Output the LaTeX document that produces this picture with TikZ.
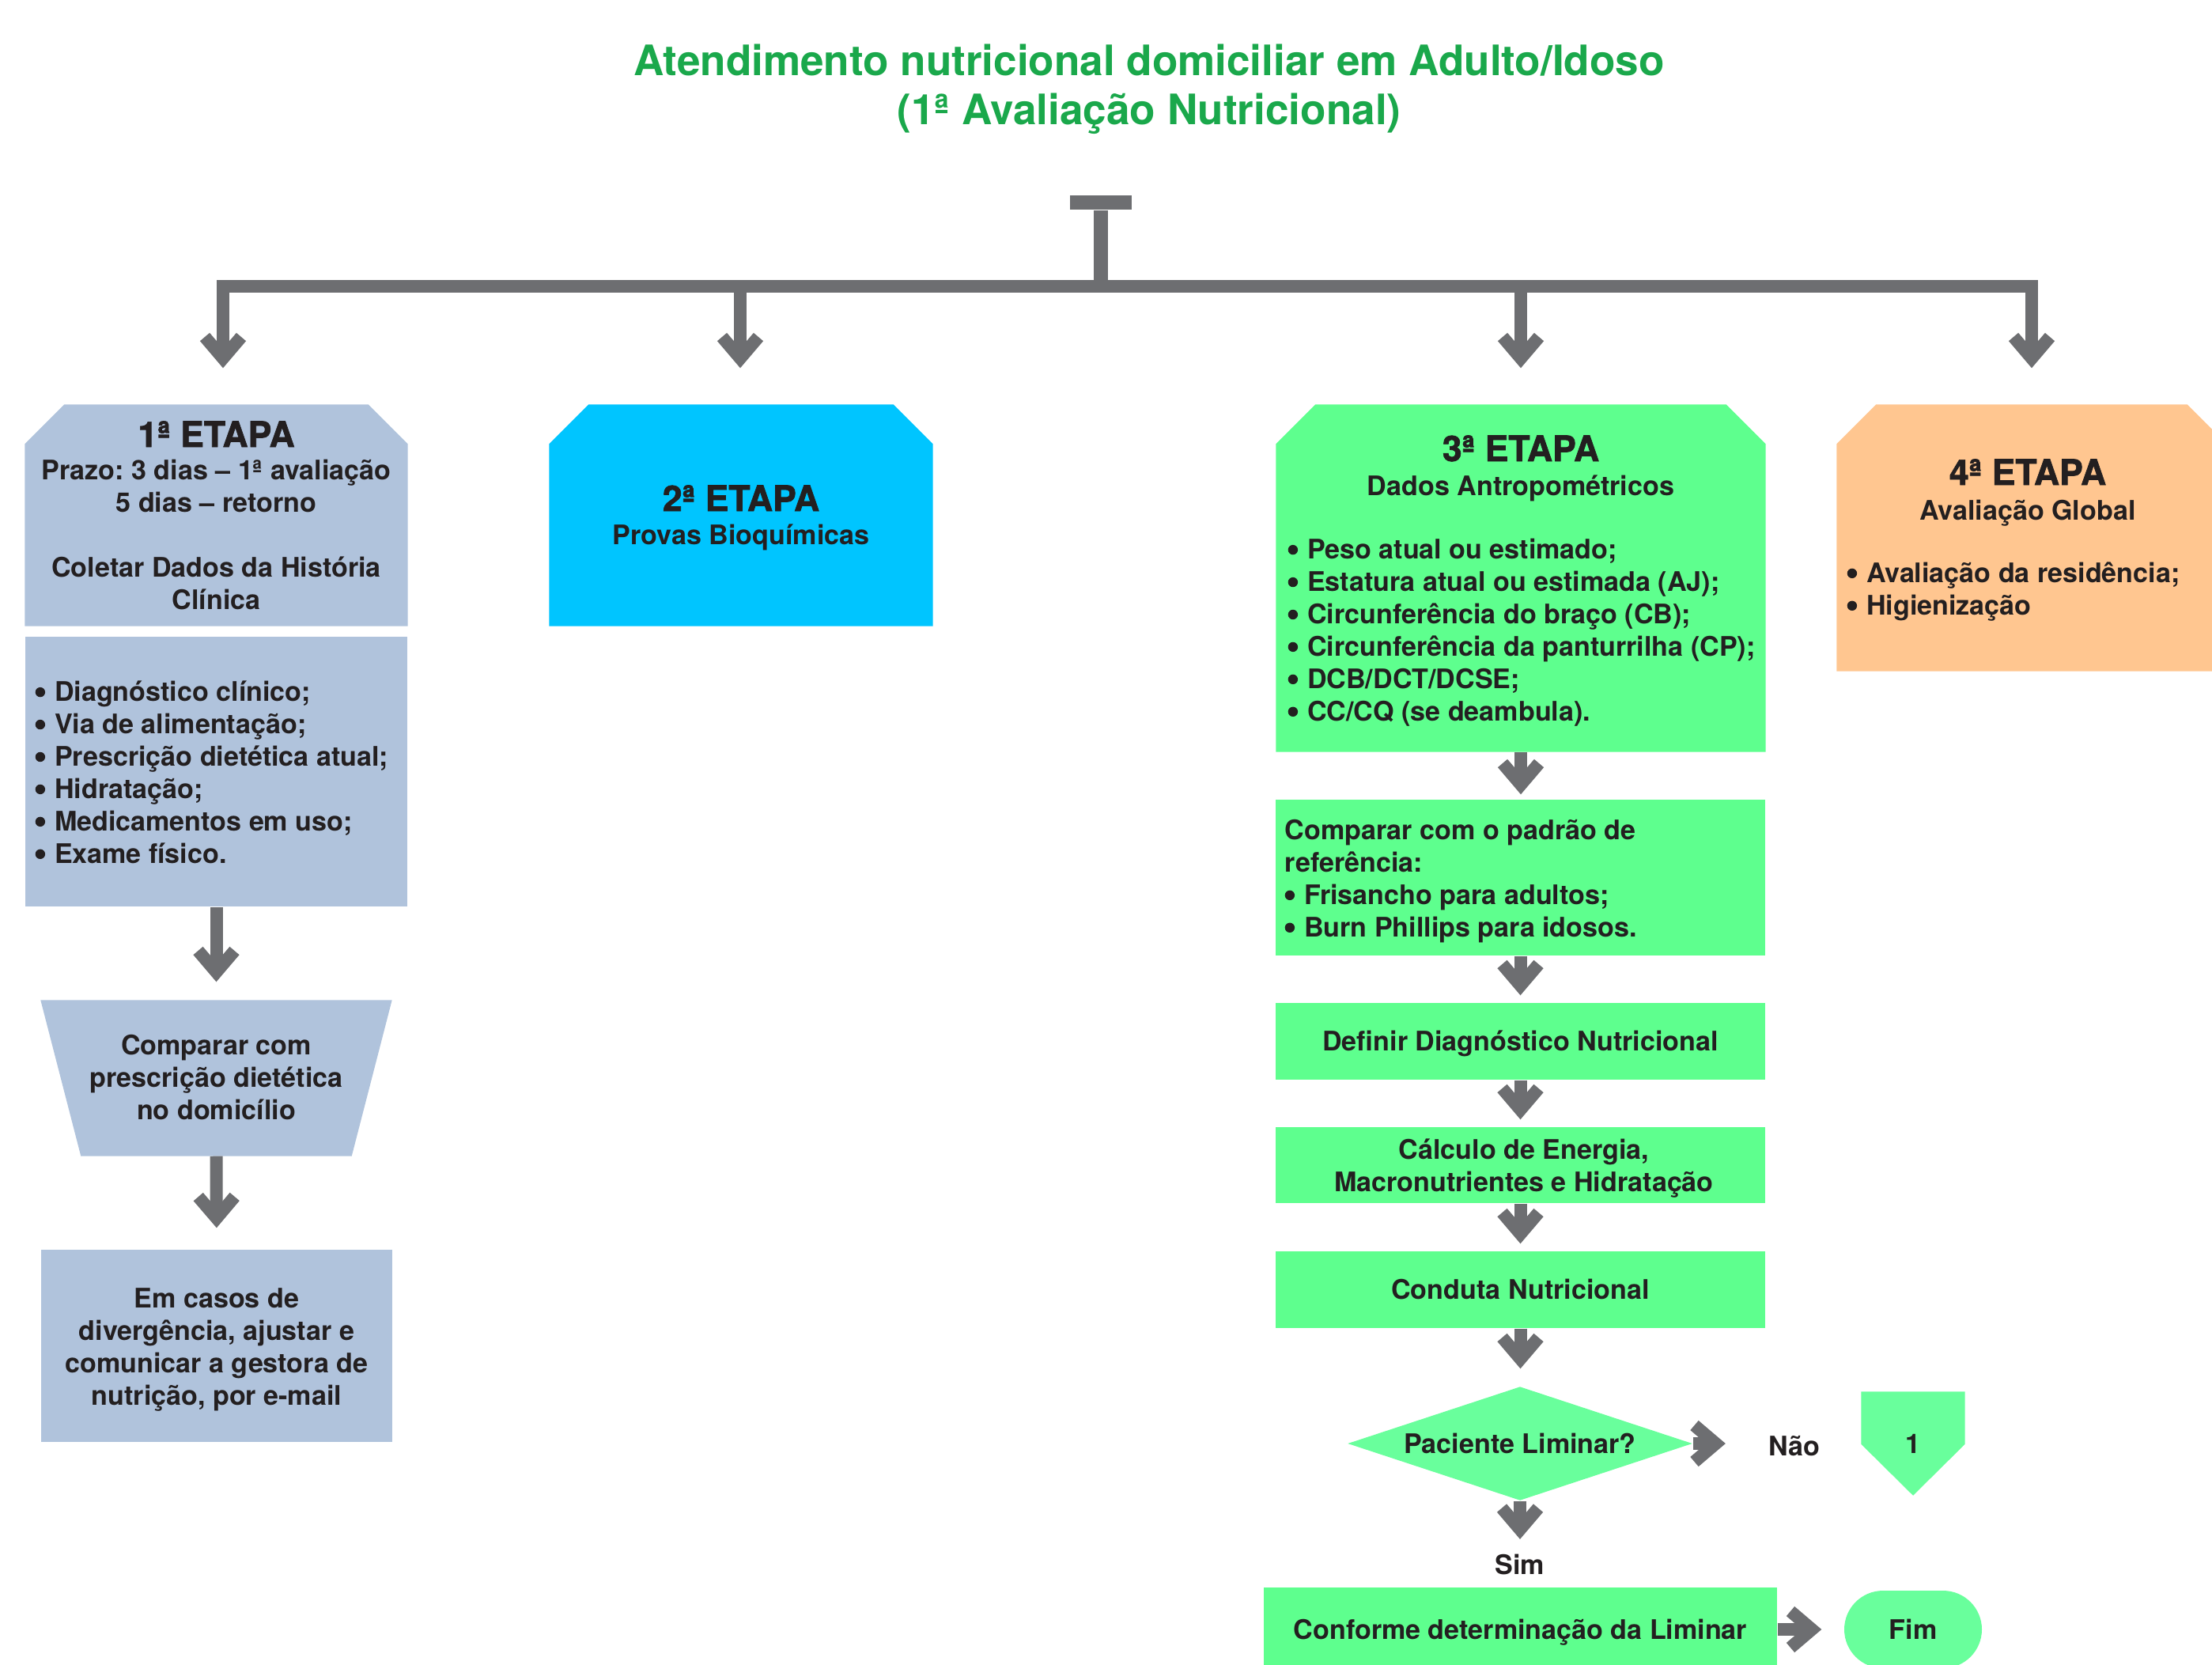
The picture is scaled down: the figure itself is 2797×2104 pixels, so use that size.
\documentclass[tikz,border=0pt]{standalone}
\usepackage{fontspec}
\setmainfont{TeX Gyre Heros}
\newfontfamily\heavyfont{TeX Gyre Heros}[BoldFeatures={FakeBold=1.6}]
\usetikzlibrary{arrows.meta,calc,shapes.geometric,backgrounds}
\frenchspacing
\definecolor{navgreen}{HTML}{1AA84B}
\definecolor{navink}{HTML}{231F20}
\definecolor{navgray}{HTML}{6D6E71}
\definecolor{navslate}{HTML}{B0C3DC}
\definecolor{navcyan}{HTML}{00C5FF}
\definecolor{navmint}{HTML}{5EFF8E}
\definecolor{navmint2}{HTML}{69FF9C}
\definecolor{navpeach}{HTML}{FFC690}
\tikzset{
  box/.style={rectangle, inner sep=0pt, align=center, text=navink, font=\bfseries\fontsize{9.7}{11.65}\selectfont, text height=2.45mm, text depth=0pt},
  ln/.style={anchor=base, inner sep=0pt, text=navink, font=\bfseries\fontsize{9.7}{11.65}\selectfont},
  blk/.style={anchor=south, align=center, inner sep=0pt, text depth=0pt, text=navink, font=\bfseries\fontsize{9.7}{11.65}\selectfont},
  blkl/.style={blk, anchor=south west, align=left},
  hd/.style={anchor=base, inner sep=0pt, text=navink, font=\heavyfont\bfseries\fontsize{12.7}{15}\selectfont},
  ttl/.style={anchor=base, inner sep=0pt, text=navgreen, font=\bfseries\fontsize{15.1}{18}\selectfont},
  arr/.style={-{Straight Barb[length=2.7mm, width=4.6mm, sharp]}, line width=1.6mm, draw=navgray},
  bus/.style={line width=1.6mm, draw=navgray},
}
% list bullet, drawn as a dot
\newcommand{\bul}{\tikz[baseline=0pt]\fill[navink] (0.65mm,1.15mm) circle[radius=0.62mm];\hspace{0.25mm}}
% chamfered top corners behind a stage box
\newcommand{\chamfill}[2]{%
  \fill[#2] (#1.south west) -- ($(#1.north west)+(0,50)$) -- ($(#1.north west)+(50,0)$)
    -- ($(#1.north east)+(-50,0)$) -- ($(#1.north east)+(0,50)$) -- (#1.south east) -- cycle;}

\begin{document}
\begin{tikzpicture}[x=0.1mm, y=-0.1mm]
  \useasboundingbox (0,0) rectangle (2797,2104);
  % title
  \node[ttl] (ttl1) at (1453,95) {Atendimento nutricional domiciliar em Adulto/Idoso};
  \node[ttl] (ttl2) at (1453,157) {(1ª Avaliação Nutricional)};

  % tree
  \node[fill=navgray, minimum width=7.8mm, minimum height=1.8mm, inner sep=0pt] (root) at (1392,256) {};
  \coordinate (bus) at (1392,362);
  \coordinate (busl) at (274,362);
  \coordinate (busr) at (2577,362);
  \coordinate (b1) at (282,362);
  \coordinate (b2) at (936,362);
  \coordinate (b3) at (1923,362);
  \coordinate (b4) at (2569,362);

  % 1a etapa
  \node[box, minimum width=48.3mm, minimum height=27.9mm] (e1) at (273.5,651.5) {};
  \node[hd] (e1h) at (273.5,565) {1ª ETAPA};
  \node[blk] (e1t) at (273.5,771) {Prazo: 3 dias – 1ª avaliação\\5 dias – retorno\\[11.65pt]Coletar Dados da História\\Clínica};
  \node[box, fill=navslate, minimum width=48.3mm, minimum height=34.1mm] (e1b) at (273.5,975.5) {};
  \node[blkl] (e1bt) at (44,1092) {\bul{} Diagnóstico clínico;\\\bul{} Via de alimentação;\\\bul{} Prescrição dietética atual;\\\bul{} Hidratação;\\\bul{} Medicamentos em uso;\\\bul{} Exame físico.};
  \node[box, minimum width=44.3mm, minimum height=19.6mm] (cmp) at (273.5,1363) {};
  \node[blk] (cmpt) at (273.5,1416) {Comparar com\\prescrição dietética\\no domicílio};
  \node[box, fill=navslate, minimum width=44.4mm, minimum height=24.3mm] (e1e) at (274,1701.5) {};
  \node[blk] (e1et) at (274,1777) {Em casos de\\divergência, ajustar e\\comunicar a gestora de\\nutrição, por e-mail};

  % 2a etapa
  \node[box, minimum width=48.4mm, minimum height=27.9mm] (e2) at (937,651.5) {};
  \node[hd] (e2h) at (937,646) {2ª ETAPA};
  \node[ln] (e2s) at (937,688) {Provas Bioquímicas};

  % 3a etapa
  \node[box, minimum width=61.8mm, minimum height=43.8mm] (e3) at (1923,731) {};
  \node[hd] (e3h) at (1923,583) {3ª ETAPA};
  \node[ln] (e3s) at (1923,626) {Dados Antropométricos};
  \node[blkl] (e3t) at (1628,912) {\bul{} Peso atual ou estimado;\\\bul{} Estatura atual ou estimada (AJ);\\\bul{} Circunferência do braço (CB);\\\bul{} Circunferência da panturrilha (CP);\\\bul{} DCB/DCT/DCSE;\\\bul{} CC/CQ (se deambula).};
  \node[box, fill=navmint, minimum width=61.9mm, minimum height=19.7mm] (ref) at (1922.5,1109.5) {};
  \node[blkl] (reft) at (1624,1185) {Comparar com o padrão de\\referência:\\\bul{} Frisancho para adultos;\\\bul{} Burn Phillips para idosos.};
  \node[box, fill=navmint, minimum width=61.9mm, minimum height=9.7mm] (diag) at (1922.5,1316.5) {Definir Diagnóstico Nutricional};
  \node[box, fill=navmint, minimum width=61.9mm, minimum height=9.6mm] (calc) at (1922.5,1473) {};
  \node[blk] (calct) at (1927,1507) {Cálculo de Energia,\\Macronutrientes e Hidratação};
  \node[box, fill=navmint, minimum width=61.9mm, minimum height=9.7mm] (cond) at (1922.5,1630.5) {Conduta Nutricional};
  \node[box, diamond, aspect=3, fill=navmint2, minimum width=43.6mm, minimum height=14.4mm] (dec) at (1922,1825) {Paciente Liminar?};
  \node[ln] (nao) at (2269,1840) {Não};
  \node[box, minimum width=13mm, minimum height=13mm] (pent) at (2419,1825) {1};
  \node[ln] (sim) at (1922,1990) {Sim};
  \node[box, fill=navmint, minimum width=64.9mm, minimum height=10.6mm] (conf) at (1922.5,2060) {Conforme determinação da Liminar};
  \node[box, fill=navmint2, rounded corners=4.9mm, minimum width=17.4mm, minimum height=9.8mm] (fim) at (2419,2060) {Fim};

  % 4a etapa
  \node[box, minimum width=49.2mm, minimum height=33.6mm] (e4) at (2569,680) {};
  \node[hd] (e4h) at (2564,613) {4ª ETAPA};
  \node[ln] (e4s) at (2564,657) {Avaliação Global};
  \node[blkl] (e4t) at (2335,778) {\bul{} Avaliação da residência;\\\bul{} Higienização};

  % connectors
  \draw[bus, line width=1.8mm] (root.south) -- (bus);
  \draw[bus] (busl) -- (busr);
  \foreach \b/\e in {b1/e1, b2/e2, b3/e3, b4/e4}
    \draw[arr, shorten >=4.6mm] (\b) -- (\b |- \e.north);
  \draw[arr, shorten >=2.3mm] (e1b.south) -- (cmp.north);
  \draw[arr, shorten >=2.7mm] (cmp.south) -- (e1e.north);
  \foreach \a/\b/\s in {e3/ref/0.6mm, ref/diag/0.9mm, diag/calc/0.9mm, calc/cond/0.9mm, cond/dec/2.2mm}
    \draw[arr, shorten >=\s] (\a.south) -- (\a.south |- \b.north);
  \draw[arr, shorten >=5.4mm] (dec.east) -- (dec.east -| nao.west);
  \draw[arr, shorten >=1.8mm] (dec.south) -- (dec.south |- sim.north);
  \draw[arr, shorten >=2.8mm] (conf.east) -- (fim.west);

  \begin{scope}[on background layer]
    \chamfill{e1}{navslate}
    \chamfill{e2}{navcyan}
    \chamfill{e3}{navmint}
    \chamfill{e4}{navpeach}
    \fill[navslate] (cmp.north west) -- (cmp.north east) -- ($(cmp.south east)+(-51,0)$) -- ($(cmp.south west)+(51,0)$) -- cycle;
    \fill[navmint2] (pent.north west) -- (pent.north east) -- ($(pent.south east)+(0,-65)$) -- (pent.south) -- ($(pent.south west)+(0,-65)$) -- cycle;
  \end{scope}
\end{tikzpicture}
\end{document}
